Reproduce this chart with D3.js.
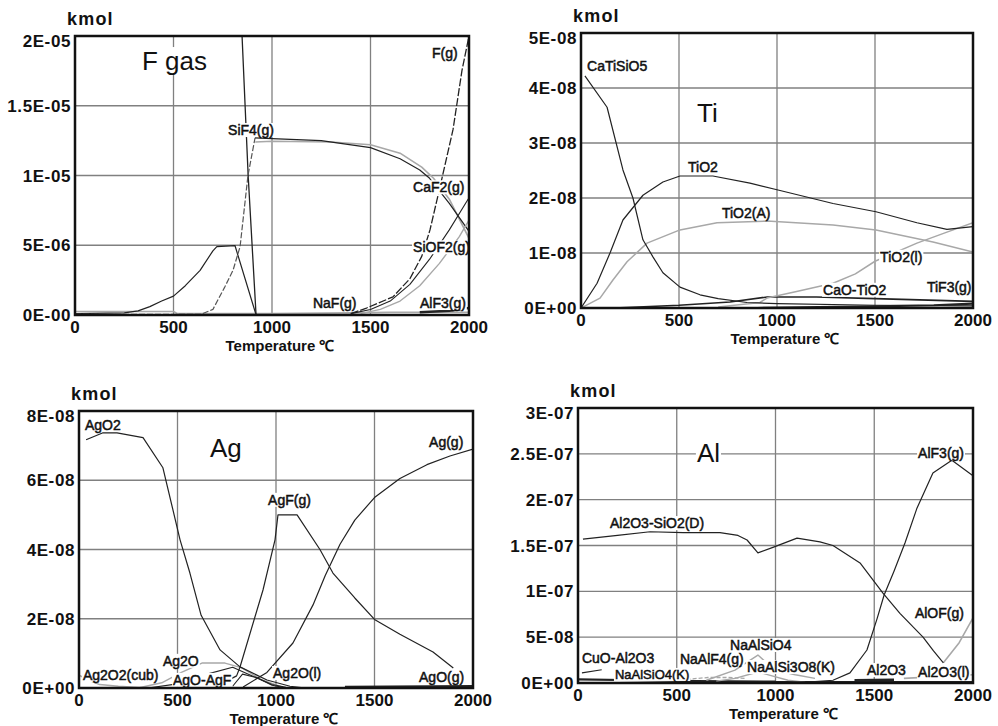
<!DOCTYPE html>
<html><head><meta charset="utf-8">
<script src="https://cdn.jsdelivr.net/npm/d3@7"></script>
<style>body{margin:0;background:#fff}svg{display:block}</style>
</head><body>
<svg id="c" width="998" height="726"></svg>
<script>
// ---------- shared axis data ----------
const xTicks = [0, 500, 1000, 1500, 2000];
const xTickLabels = ["0", "500", "1000", "1500", "2000"];

// ---------- Panel 1 : F gas ----------
const fYTicks = [0, 5e-6, 1e-5, 1.5e-5, 2e-5];
const fYTickLabels = ["0E-00", "5E-06", "1E-05", "1.5E-05", "2E-05"];
const fSteep = [[825,2.45e-5],[848,2.0e-5],[879,1.0e-5],[919,0.02e-6]];
const fHump = [[0,0.1e-6],[250,0.15e-6],[320,0.3e-6],[380,0.6e-6],[440,1.0e-6],[500,1.35e-6],[560,2.1e-6],[635,3.2e-6],[700,4.6e-6],[720,4.9e-6],[812,4.98e-6],[919,0.02e-6]];
const fSiF4Rise = [[0,0.05e-6],[640,0.05e-6],[700,0.4e-6],[760,2.0e-6],[802,3.2e-6],[838,4.9e-6],[878,1.0e-5],[914,1.27e-5]];
const fSiF4 = [[914,1.27e-5],[1000,1.265e-5],[1250,1.25e-5],[1500,1.2e-5],[1650,1.12e-5],[1750,1.04e-5],[1800,9.8e-6],[1900,8.0e-6],[2000,6.0e-6]];
const fCaF2 = [[915,1.24e-5],[1000,1.245e-5],[1300,1.24e-5],[1500,1.22e-5],[1650,1.16e-5],[1760,1.06e-5],[1820,9.8e-6],[1900,8.3e-6],[2000,5.5e-6]];
const fF = [[1400,0.1e-6],[1480,0.5e-6],[1614,1.3e-6],[1700,2.6e-6],[1760,4.2e-6],[1802,6.1e-6],[1853,9.2e-6],[1919,1.33e-5],[1964,1.75e-5],[2000,2.0e-5]];
const fSiOF2 = [[1400,0.1e-6],[1500,0.4e-6],[1600,1.0e-6],[1700,2.2e-6],[1800,4.0e-6],[1900,6.1e-6],[2000,8.4e-6]];
const fOther = [[1450,0.1e-6],[1550,0.4e-6],[1650,1.0e-6],[1750,2.1e-6],[1850,3.7e-6],[1950,5.6e-6],[2000,6.8e-6]];
const fNaF = [[0,0.25e-6],[500,0.25e-6],[520,0.1e-6],[1000,0.1e-6],[1400,0.15e-6],[1600,0.2e-6],[2000,0.2e-6]];
const fAlF3 = [[1750,0.2e-6],[1900,0.3e-6],[2000,0.5e-6]];

// ---------- Panel 2 : Ti ----------
const tYTicks = [0, 1e-8, 2e-8, 3e-8, 4e-8, 5e-8];
const tYTickLabels = ["0E+00", "1E-08", "2E-08", "3E-08", "4E-08", "5E-08"];
const tCaTiSiO5 = [[20,4.22e-8],[133,3.65e-8],[214,2.51e-8],[265,2.0e-8],[316,1.24e-8],[367,0.93e-8],[418,0.64e-8],[505,0.38e-8],[607,0.24e-8],[700,0.17e-8],[847,0.1e-8],[1000,0.08e-8],[1500,0.05e-8],[2000,0.04e-8]];
const tTiO2 = [[0,0],[82,0.45e-8],[148,1.0e-8],[214,1.6e-8],[316,2.05e-8],[418,2.29e-8],[505,2.4e-8],[673,2.4e-8],[862,2.27e-8],[1000,2.15e-8],[1286,1.9e-8],[1505,1.75e-8],[1714,1.55e-8],[1867,1.43e-8],[2000,1.48e-8]];
const tTiO2A = [[0,0],[97,0.18e-8],[163,0.51e-8],[235,0.84e-8],[337,1.18e-8],[505,1.42e-8],[694,1.55e-8],[949,1.58e-8],[1286,1.51e-8],[1505,1.42e-8],[1796,1.2e-8],[2000,1.02e-8]];
const tTiO2l = [[700,0.02e-8],[913,0.1e-8],[949,0.18e-8],[1100,0.3e-8],[1286,0.45e-8],[1400,0.62e-8],[1500,0.85e-8],[1714,1.18e-8],[1867,1.38e-8],[2000,1.55e-8]];
const tCaOTiO2 = [[170,0],[500,0.05e-8],[760,0.11e-8],[950,0.2e-8],[1200,0.2e-8],[1500,0.17e-8],[2000,0.12e-8]];
const tTiF3 = [[900,0.0],[1500,0.03e-8],[1800,0.05e-8],[2000,0.08e-8]];

// ---------- Panel 3 : Ag ----------
const aYTicks = [0, 2e-8, 4e-8, 6e-8, 8e-8];
const aYTickLabels = ["0E+00", "2E-08", "4E-08", "6E-08", "8E-08"];
const aAgO2 = [[36,7.17e-8],[122,7.37e-8],[193,7.37e-8],[325,7.23e-8],[426,6.36e-8],[513,4.28e-8],[563,3.32e-8],[620,2.1e-8],[716,1.1e-8],[817,0.61e-8],[954,0.23e-8],[1071,0.05e-8],[1150,0.0]];
const aAgF = [[700,0.05e-8],[800,0.35e-8],[817,0.6e-8],[934,2.83e-8],[995,4.28e-8],[1010,5.0e-8],[1107,5.0e-8],[1223,4.0e-8],[1289,3.32e-8],[1400,2.6e-8],[1500,1.98e-8],[1629,1.55e-8],[1797,1.04e-8],[1900,0.58e-8]];
const aAg = [[833,0.03e-8],[954,0.45e-8],[1086,1.3e-8],[1188,2.4e-8],[1250,3.25e-8],[1325,4.15e-8],[1400,4.85e-8],[1500,5.5e-8],[1629,6.05e-8],[1766,6.45e-8],[1883,6.7e-8],[2000,6.9e-8]];
const aAg2O = [[300,0.0],[420,0.15e-8],[520,0.45e-8],[624,0.72e-8],[741,0.72e-8],[827,0.58e-8],[929,0.23e-8],[1030,0.03e-8]];
const aAgOAgF = [[350,0.0],[500,0.12e-8],[650,0.4e-8],[780,0.6e-8],[880,0.35e-8],[980,0.1e-8],[1050,0.02e-8]];
const aAg2Ol = [[780,0.05e-8],[830,0.4e-8],[900,0.3e-8],[980,0.08e-8],[1050,0.0]];
const aAg2O2 = [[0,0.37e-8],[60,0.2e-8],[105,0.1e-8],[200,0.05e-8],[350,0.0]];
const aAgOg = [[1350,0.03e-8],[2000,0.05e-8]];

// ---------- Panel 4 : Al ----------
const lYTicks = [0, 5e-8, 1e-7, 1.5e-7, 2e-7, 2.5e-7, 3e-7];
const lYTickLabels = ["0E+00", "5E-08", "1E-07", "1.5E-07", "2E-07", "2.5E-07", "3E-07"];
const lAl2O3SiO2 = [[25,15.7e-8],[200,16.1e-8],[365,16.5e-8],[532,16.4e-8],[719,16.4e-8],[810,16.1e-8],[856,15.6e-8],[911,14.2e-8],[987,14.8e-8],[1109,15.8e-8],[1225,15.4e-8],[1291,15.0e-8],[1428,13.1e-8],[1544,9.8e-8],[1630,7.6e-8],[1747,5.0e-8],[1800,3.5e-8],[1850,2.2e-8]];
const lAlOF = [[1850,2.2e-8],[1930,4.4e-8],[2000,7.1e-8]];
const lAlF3 = [[900,0.05e-8],[1200,0.15e-8],[1291,0.3e-8],[1377,1.1e-8],[1463,3.6e-8],[1514,7.0e-8],[1550,9.6e-8],[1600,12.2e-8],[1656,15.3e-8],[1715,19.0e-8],[1797,22.9e-8],[1893,24.3e-8],[2000,22.6e-8]];
const lNaAlSiO4 = [[650,0.3e-8],[795,1.4e-8],[911,3.05e-8],[997,1.4e-8],[1100,0.9e-8],[1200,0.5e-8]];
const lNaAlSi3O8 = [[700,0.2e-8],[795,0.5e-8],[911,1.2e-8],[1063,0.3e-8],[1150,0.1e-8]];
const lNaAlF4 = [[550,0.4e-8],[658,0.6e-8],[760,0.6e-8],[850,0.5e-8]];
const lCuOAl2O3 = [[20,1.1e-8],[120,1.45e-8]];
const lNaAlSiO4K = [[0,0.4e-8],[300,0.3e-8],[600,0.2e-8],[1000,0.15e-8]];
const lAl2O3 = [[1400,0.3e-8],[1600,0.35e-8]];
const lAl2O3l = [[1650,0.5e-8],[2000,0.9e-8]];
const lBase = [[600,0.1e-8],[2000,0.1e-8]];

// ---------- panel definitions (layout) ----------
const DARK = "#222", GRAY = "#a8a8a8";
const panels = [
  { title: "F gas", titleAt: [340, 1.756e-5], box: {l:75, r:469, t:36, b:315},
    yMax: 2e-5, yTicks: fYTicks, yLabels: fYTickLabels,
    series: [
      {d: fNaF, c: GRAY, w: 1.6}, {d: fAlF3, c: DARK, w: 2.5},
      {d: fSteep, c: DARK, w: 1.3}, {d: fHump, c: DARK, w: 1.2},
      {d: fSiF4Rise, c: "#555", w: 1.2, dash: "6,2"},
      {d: fCaF2, c: GRAY, w: 1.6}, {d: fSiF4, c: DARK, w: 1.2},
      {d: fOther, c: GRAY, w: 1.4}, {d: fSiOF2, c: DARK, w: 1.1},
      {d: fF, c: DARK, w: 1.3, dash: "8,2"}],
    labels: [["F(g)",1812,1.84e-5],["SiF4(g)",777,1.29e-5],["CaF2(g)",1716,8.8e-6],["SiOF2(g)",1716,4.5e-6],["NaF(g)",1208,0.5e-6],["AlF3(g)",1751,0.5e-6]] },
  { title: "Ti", titleAt: [592, 3.38e-8], box: {l:581, r:973, t:33, b:308},
    yMax: 5e-8, yTicks: tYTicks, yLabels: tYTickLabels,
    series: [
      {d: tTiF3, c: DARK, w: 2.2}, {d: tCaOTiO2, c: DARK, w: 1.6},
      {d: tTiO2l, c: GRAY, w: 1.5}, {d: tTiO2A, c: GRAY, w: 1.5},
      {d: tTiO2, c: DARK, w: 1.2}, {d: tCaTiSiO5, c: DARK, w: 1.2}],
    labels: [["CaTiSiO5",31,4.31e-8],["TiO2",546,2.47e-8],["TiO2(A)",719,1.64e-8],["TiO2(l)",1526,0.84e-8],["CaO-TiO2",1235,0.24e-8],["TiF3(g)",1765,0.29e-8]] },
  { title: "Ag", titleAt: [665, 6.68e-8], box: {l:79, r:473, t:411, b:688},
    yMax: 8e-8, yTicks: aYTicks, yLabels: aYTickLabels,
    series: [
      {d: aAgOg, c: DARK, w: 2.5}, {d: aAg2O2, c: GRAY, w: 1.4},
      {d: aAg2O, c: GRAY, w: 1.4}, {d: aAgOAgF, c: DARK, w: 1.1},
      {d: aAg2Ol, c: DARK, w: 1.1}, {d: aAgO2, c: DARK, w: 1.2},
      {d: aAgF, c: DARK, w: 1.2}, {d: aAg, c: DARK, w: 1.2}],
    labels: [["AgO2",30,7.46e-8],["Ag(g)",1777,6.97e-8],["AgF(g)",960,5.29e-8],["Ag2O",426,0.64e-8],["Ag2O2(cub)",20,0.23e-8],["AgO-AgF",477,0.09e-8],["Ag2O(l)",985,0.29e-8],["AgO(g)",1726,0.17e-8]] },
  { title: "Al", titleAt: [602, 24.1e-8], box: {l:578, r:973, t:408, b:683},
    yMax: 3e-7, yTicks: lYTicks, yLabels: lYTickLabels,
    series: [
      {d: lBase, c: DARK, w: 2.2}, {d: lNaAlSiO4K, c: DARK, w: 2.2},
      {d: lAl2O3, c: DARK, w: 2.5}, {d: lAl2O3l, c: GRAY, w: 1.6},
      {d: lCuOAl2O3, c: DARK, w: 1.1}, {d: lNaAlF4, c: GRAY, w: 1.3, dash: "4,2"},
      {d: lNaAlSi3O8, c: GRAY, w: 1.4}, {d: lNaAlSiO4, c: GRAY, w: 1.4},
      {d: lAlOF, c: GRAY, w: 1.6}, {d: lAl2O3SiO2, c: DARK, w: 1.2},
      {d: lAlF3, c: DARK, w: 1.2}],
    labels: [["AlF3(g)",1722,24.5e-8],["Al2O3-SiO2(D)",162,16.9e-8],["AlOF(g)",1706,7.1e-8],["NaAlSiO4",770,3.6e-8],["CuO-Al2O3",20,2.18e-8],["NaAlSiO4(K)",187,0.44e-8,13],["NaAlF4(g)",516,2.07e-8],["NaAlSi3O8(K)",856,1.2e-8],["Al2O3",1463,0.87e-8],["Al2O3(l)",1722,0.65e-8]] }
];

const svg = d3.select("#c");
svg.append("rect").attr("width", 998).attr("height", 726).attr("fill", "#fff");
const FONT = "'Liberation Sans', Arial, sans-serif";

panels.forEach((p, i) => {
  const B = p.box;
  const x = d3.scaleLinear().domain([0, 2000]).range([B.l, B.r]);
  const y = d3.scaleLinear().domain([0, p.yMax]).range([B.b, B.t]);
  const g = svg.append("g");
  const clipId = "clip" + i;
  g.append("clipPath").attr("id", clipId).append("rect")
    .attr("x", B.l).attr("y", B.t).attr("width", B.r - B.l).attr("height", B.b - B.t);

  // grid
  g.append("g").selectAll("line").data(xTicks.slice(1, -1)).join("line")
    .attr("x1", d => x(d)).attr("x2", d => x(d)).attr("y1", B.t).attr("y2", B.b)
    .attr("stroke", "#808080").attr("stroke-width", 1.3);
  g.append("g").selectAll("line").data(p.yTicks.slice(1, -1)).join("line")
    .attr("y1", d => y(d)).attr("y2", d => y(d)).attr("x1", B.l).attr("x2", B.r)
    .attr("stroke", "#808080").attr("stroke-width", 1.3);

  // series
  const line = d3.line().x(d => x(d[0])).y(d => y(d[1]));
  const sg = g.append("g").attr("clip-path", `url(#${clipId})`);
  p.series.forEach(s => {
    sg.append("path").attr("d", line(s.d)).attr("fill", "none")
      .attr("stroke", s.c).attr("stroke-width", s.w)
      .attr("stroke-dasharray", s.dash || null).attr("stroke-linejoin", "round");
  });

  // labels with white background
  const addLabel = (txt, tx, ty, size, stroke) => {
    const t = g.append("text").attr("x", tx).attr("y", ty).text(txt)
      .attr("font-family", FONT).attr("font-size", size)
      .attr("fill", "#111");
    if (stroke) t.attr("stroke", "#111").attr("stroke-width", stroke);
    const bb = t.node().getBBox();
    g.insert("rect", () => t.node()).attr("x", bb.x - 1).attr("y", bb.y + 1)
      .attr("width", bb.width + 2).attr("height", bb.height - 2).attr("fill", "#fff");
    return t;
  };
  addLabel(p.title, x(p.titleAt[0]), y(p.titleAt[1]), 26, 0);
  p.labels.forEach(l => addLabel(l[0], x(l[1]), y(l[2]), l[3] || 14, 0.5));

  // frame
  g.append("rect").attr("x", B.l).attr("y", B.t).attr("width", B.r - B.l).attr("height", B.b - B.t)
    .attr("fill", "none").attr("stroke", "#111").attr("stroke-width", 2.5);

  // y tick labels
  g.append("g").selectAll("text").data(p.yTicks).join("text")
    .attr("x", B.l - 4).attr("y", (d, k) => y(d) + (k === p.yTicks.length - 1 ? 5 : 0))
    .attr("dy", "0.36em").attr("text-anchor", "end")
    .attr("font-family", FONT).attr("font-weight", "bold").attr("font-size", 17)
    .attr("letter-spacing", 0.6).attr("fill", "#111")
    .text((d, k) => p.yLabels[k]);

  // x tick labels
  g.append("g").selectAll("text").data(xTicks).join("text")
    .attr("x", d => x(d)).attr("y", B.b + 18).attr("text-anchor", "middle")
    .attr("font-family", FONT).attr("font-weight", "bold").attr("font-size", 17)
    .attr("fill", "#111").text((d, k) => xTickLabels[k]);

  // axis titles
  g.append("text").attr("x", B.l - 8).attr("y", B.t - 11).text("kmol")
    .attr("font-family", FONT).attr("font-weight", "bold").attr("font-size", 18)
    .attr("letter-spacing", 1.2).attr("fill", "#111");
  g.append("text").attr("x", (B.l + B.r) / 2 + 8).attr("y", B.b + 36).attr("text-anchor", "middle")
    .text("Temperature ℃").attr("font-family", FONT).attr("font-weight", "bold")
    .attr("font-size", 15).attr("fill", "#111");
});
</script>
</body></html>
